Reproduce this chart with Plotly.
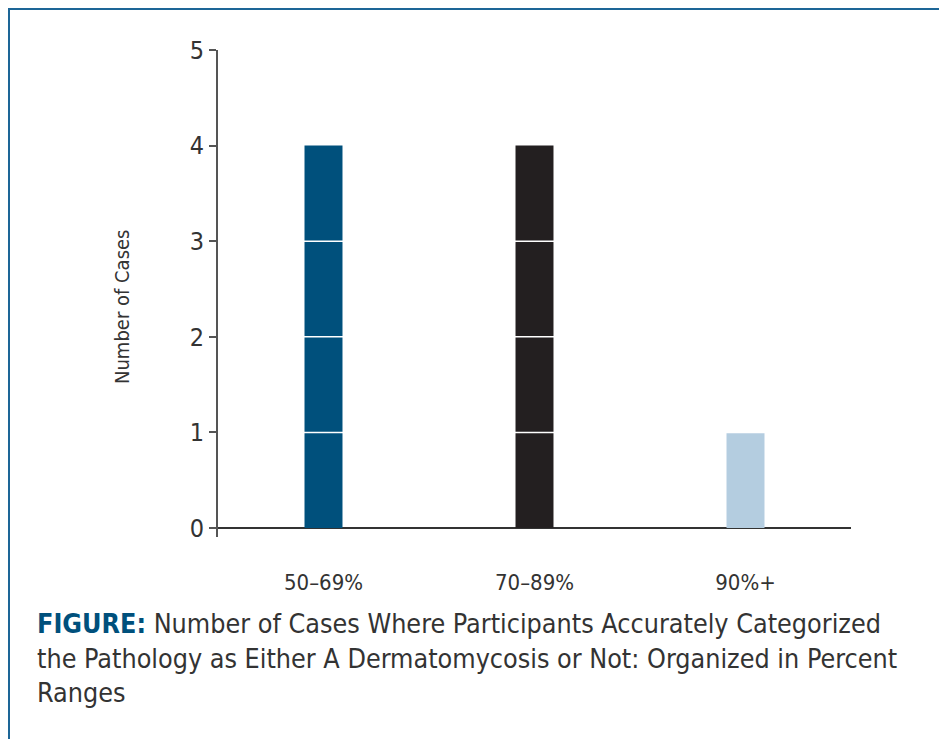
import plotly.graph_objects as go

# data
categories = ['50–69%', '70–89%', '90%+']
cases = [4, 4, 1]
bar_colors = ['#00507c', '#231f20', '#b4cde0']
y_ticks = [0, 1, 2, 3, 4, 5]
divider_levels = [1, 2, 3]

FONT = 'DejaVu Sans Condensed, Liberation Sans Narrow, sans-serif'
OFF = 8  # the page body margin shifts the figure by this much
W, H = 947 - OFF, 739 - OFF
L, R, T, B = 218 - OFF, 96, 50 - OFF, 202
PW, PH = W - L - R, H - T - B


def px_x(x):
    # page pixel -> paper fraction
    return (x - OFF - L) / PW


def px_y(y):
    return (H - B - (y - OFF)) / PH


fig = go.Figure(go.Bar(
    x=categories,
    y=cases,
    marker=dict(color=bar_colors, line=dict(width=0)),
    width=0.18,
    hoverinfo='x+y'
))

# white lines cutting through the bars at each whole case
for lvl in divider_levels:
    fig.add_shape(type='line', xref='paper', yref='y', x0=0.01, x1=1, y0=lvl, y1=lvl,
                  line=dict(color='white', width=1.5), layer='above')

# figure frame
fig.add_shape(type='rect', xref='paper', yref='paper',
              x0=px_x(9), x1=px_x(945), y0=px_y(9), y1=px_y(760),
              line=dict(color='#1d6697', width=2), layer='below')

fig.add_annotation(
    xref='paper', yref='paper', x=px_x(122), y=px_y(307), xanchor='center', yanchor='middle',
    textangle=-90, showarrow=False, text='Number of Cases',
    font=dict(family=FONT, size=20, color='#333333')
)

fig.add_annotation(
    xref='paper', yref='paper', x=px_x(35), y=px_y(606), xanchor='left', yanchor='top',
    align='left', showarrow=False,
    text=('<span style="color:#00507c;font-weight:bold">FIGURE:</span> '
          'Number of Cases Where Participants Accurately Categorized<br>'
          'the Pathology as Either A Dermatomycosis or Not: Organized in Percent<br>'
          'Ranges'),
    font=dict(family=FONT, size=26.7, color='#333333')
)

fig.update_layout(
    width=W, height=H,
    margin=dict(l=L, r=R, t=T, b=B),
    plot_bgcolor='white', paper_bgcolor='white',
    showlegend=False,
    font=dict(family=FONT, color='#333333'),
    xaxis=dict(
        showline=False, showgrid=False, zeroline=False,
        ticks='', ticklabelstandoff=30,
        tickfont=dict(family=FONT, size=22, color='#333333')
    ),
    yaxis=dict(
        range=[-0.094, 5], tickvals=y_ticks,
        showgrid=False, zeroline=True, zerolinecolor='#333333', zerolinewidth=1.5,
        showline=True, linecolor='#555555', linewidth=2,
        ticks='outside', ticklen=7, tickcolor='#555555', tickwidth=1.5,
        tickfont=dict(family=FONT, size=25, color='#333333')
    )
)

fig.write_html('out.html')
